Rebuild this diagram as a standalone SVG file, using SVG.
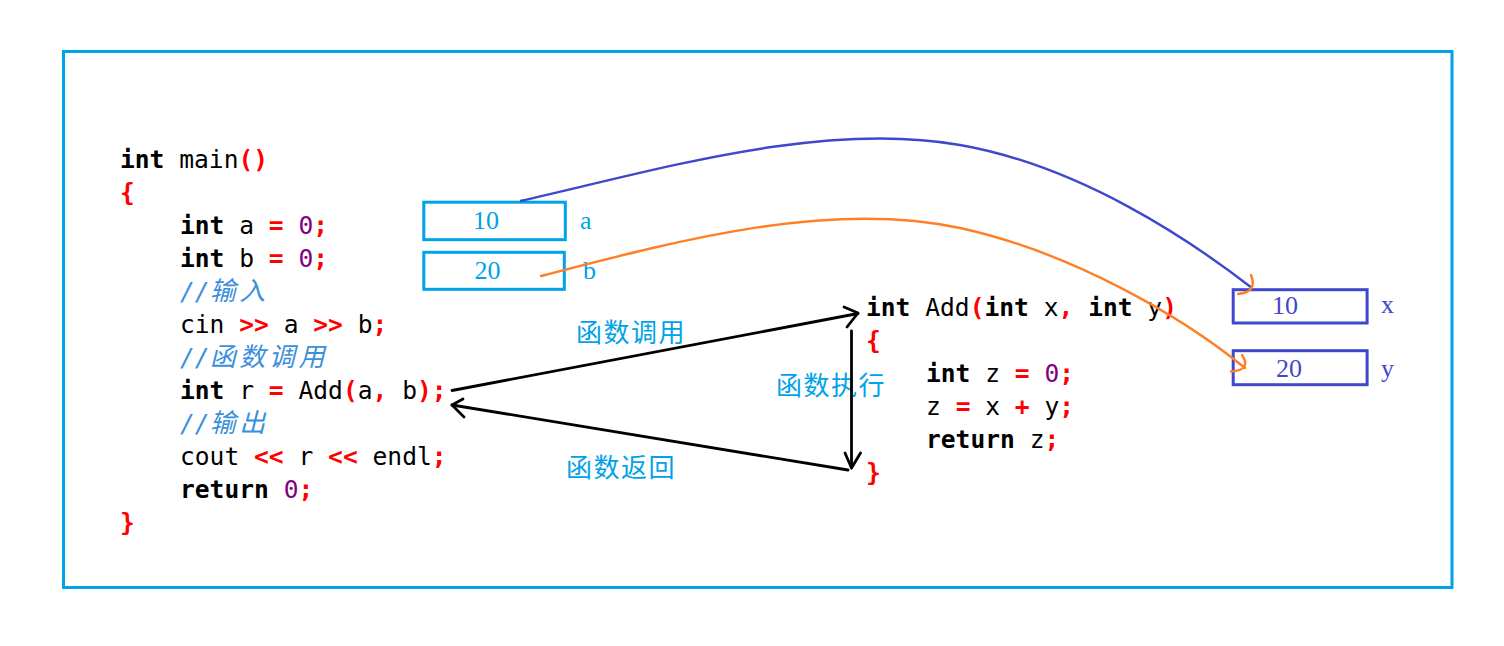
<svg xmlns="http://www.w3.org/2000/svg" width="1504" height="646" viewBox="0 0 1504 646">
<style>
.code{font-family:"DejaVu Sans Mono","Liberation Mono",monospace;font-size:24.6px;fill:#000;white-space:pre}
.kw{font-weight:bold}
.op{fill:#FF0000;font-weight:bold}
.num{fill:#800080}
.cm{fill:#3B8FDB;font-style:italic}
.cjk{font-family:"Noto Sans CJK SC",sans-serif;font-size:26px;letter-spacing:3.6px}
.lbl{font-family:"Noto Sans CJK SC",sans-serif;font-size:26px;letter-spacing:1.5px;fill:#00A2E8}
.sv{font-family:"Liberation Serif",serif;font-size:26px}
.boxA{fill:none;stroke:#00A2E8;stroke-width:3}
.boxX{fill:none;stroke:#3F48CC;stroke-width:3}
.arr{fill:none;stroke:#000;stroke-width:2.8;stroke-linecap:round;stroke-linejoin:round}
.blue{fill:none;stroke:#3F48CC;stroke-width:2.4}
.orange{fill:none;stroke:#FF7F27;stroke-width:2.4;stroke-linecap:round}
</style>
<rect width="1504" height="646" fill="#fff"/>
<rect x="63.5" y="51.5" width="1388.5" height="536" fill="none" stroke="#00A2E8" stroke-width="3"/>
<g id="main-code">
<text class="code" x="120" y="168"><tspan class="kw">int</tspan> main<tspan class="op">()</tspan></text>
<text class="code" x="120" y="201"><tspan class="op">{</tspan></text>
<text class="code" x="180" y="234"><tspan class="kw">int</tspan> a <tspan class="op">=</tspan> <tspan class="num">0</tspan><tspan class="op">;</tspan></text>
<text class="code" x="180" y="267"><tspan class="kw">int</tspan> b <tspan class="op">=</tspan> <tspan class="num">0</tspan><tspan class="op">;</tspan></text>
<text class="code cm" x="180" y="300">//<tspan class="cjk">输入</tspan></text>
<text class="code" x="180" y="333">cin <tspan class="op">&gt;&gt;</tspan> a <tspan class="op">&gt;&gt;</tspan> b<tspan class="op">;</tspan></text>
<text class="code cm" x="180" y="366">//<tspan class="cjk">函数调用</tspan></text>
<text class="code" x="180" y="399"><tspan class="kw">int</tspan> r <tspan class="op">=</tspan> Add<tspan class="op">(</tspan>a<tspan class="op">,</tspan> b<tspan class="op">);</tspan></text>
<text class="code cm" x="180" y="432">//<tspan class="cjk">输出</tspan></text>
<text class="code" x="180" y="465">cout <tspan class="op">&lt;&lt;</tspan> r <tspan class="op">&lt;&lt;</tspan> endl<tspan class="op">;</tspan></text>
<text class="code" x="180" y="498"><tspan class="kw">return</tspan> <tspan class="num">0</tspan><tspan class="op">;</tspan></text>
<text class="code" x="120" y="531"><tspan class="op">}</tspan></text>
</g>
<g id="add-code">
<text class="code" x="866" y="316"><tspan class="kw">int</tspan> Add<tspan class="op">(</tspan><tspan class="kw">int</tspan> x<tspan class="op">,</tspan> <tspan class="kw">int</tspan> y<tspan class="op">)</tspan></text>
<text class="code" x="866" y="349"><tspan class="op">{</tspan></text>
<text class="code" x="926" y="382"><tspan class="kw">int</tspan> z <tspan class="op">=</tspan> <tspan class="num">0</tspan><tspan class="op">;</tspan></text>
<text class="code" x="926" y="415">z <tspan class="op">=</tspan> x <tspan class="op">+</tspan> y<tspan class="op">;</tspan></text>
<text class="code" x="926" y="448"><tspan class="kw">return</tspan> z<tspan class="op">;</tspan></text>
<text class="code" x="866" y="481"><tspan class="op">}</tspan></text>
</g>
<g id="box-a">
<rect class="boxA" x="423.8" y="202.2" width="141.5" height="37.5"/>
<text class="sv" x="486" y="229" text-anchor="middle" fill="#00A2E8">10</text>
<text class="sv" x="580" y="229" fill="#00A2E8">a</text>
</g>
<g id="box-b">
<rect class="boxA" x="423.8" y="252.3" width="140.5" height="37"/>
<text class="sv" x="487.5" y="279" text-anchor="middle" fill="#00A2E8">20</text>
<text class="sv" x="583" y="279" fill="#00A2E8">b</text>
</g>
<g id="box-x">
<rect class="boxX" x="1233.2" y="289.7" width="133.9" height="33.3"/>
<text class="sv" x="1285" y="314" text-anchor="middle" fill="#3F48CC">10</text>
<text class="sv" x="1381" y="313" fill="#3F48CC">x</text>
</g>
<g id="box-y">
<rect class="boxX" x="1233.2" y="350.7" width="133.9" height="34"/>
<text class="sv" x="1289" y="377" text-anchor="middle" fill="#3F48CC">20</text>
<text class="sv" x="1381" y="377" fill="#3F48CC">y</text>
</g>
<g id="labels">
<text class="lbl" x="576" y="342">函数调用</text>
<text class="lbl" x="776" y="395">函数执行</text>
<text class="lbl" x="566" y="477">函数返回</text>
</g>
<g id="connectors">
<path class="arr" d="M452,390.5 L858,313.5"/>
<path class="arr" d="M844,307 L858,313 L847,327"/>
<path class="arr" d="M848,470 L452,405"/>
<path class="arr" d="M463,399 L452,405 L464,417"/>
<path class="arr" d="M851.5,331 L851.5,468"/>
<path class="arr" d="M845,453 L851.5,468 L860.5,453"/>
<path class="blue" d="M520,201 C650,172 820,120 960,145 C1080,166 1190,240 1252,288"/>
<path class="orange" d="M1251,275 Q1258,292 1238,294"/>
<path class="orange" d="M541,276 C680,240 830,200 960,228 C1070,252 1180,315 1245,368"/>
<path class="orange" d="M1242,355 Q1252,370 1231,371.5"/>
</g>
</svg>
